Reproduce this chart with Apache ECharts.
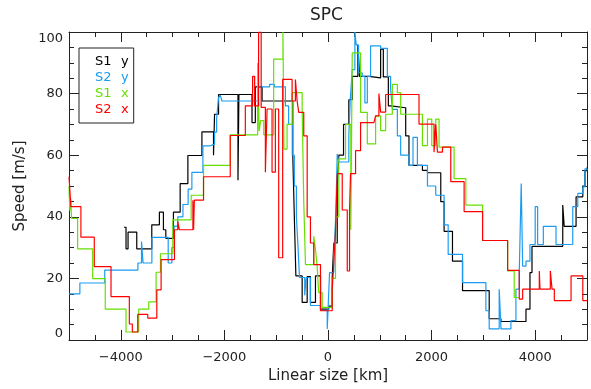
<!DOCTYPE html>
<html><head><meta charset="utf-8">
<script src="https://cdn.jsdelivr.net/npm/echarts@6/dist/echarts.min.js"></script>
<style>html,body{margin:0;padding:0;background:#fff}#c{width:591px;height:389px}</style>
</head><body><div id="c"></div>
<script>
// Tick labels
const xLabelTicks = [-4000, -2000, 0, 2000, 4000];
const xShortTicks = [-4500,-3500,-3000,-2500,-1500,-1000,-500,500,1000,1500,2500,3000,3500,4500];
const yMinorTicks = 4;

// Series: [linear size km, speed m/s] – value held until next point
const s1y = [[-3938,36.6],[-3899,29.6],[-3860,35],[-3692,29.6],[-3402,37.4],[-3255,41.5],[-3177,35.8],[-3131,33],[-2984,41.5],[-2854,50.8],[-2705,59.9],[-2434,67.6],[-2210,60],[-2190,73.3],[-2113,79.7],[-1738,51.9],[-1720,79.7],[-1467,70.6],[-1403,82.2],[-1273,77.6],[-680,60],[-650,40],[-620,20.8],[-499,12.2],[-402,20.6],[-339,12.2],[-242,20.8],[-145,10],[15,11],[81,20],[112,31.5],[178,50],[209,60],[300,70],[402,78],[468,85.6],[577,95.8],[610,85.6],[789,85.1],[1016,94.4],[1068,85.4],[1165,76],[1209,75.4],[1500,66.3],[1563,56.7],[1823,55.1],[1920,54.3],[2177,44.9],[2241,35.3],[2403,25.6],[2597,16],[3112,6.9],[3338,6],[3822,10],[3899,21.9],[3938,30.4],[4532,43.8],[4560,36.9],[4789,46.5],[4919,50],[4960,55],[5000,56]];
const s2y = [[-5000,15],[-4790,18.5],[-4310,22.7],[-3670,25],[-3600,32],[-3570,25],[-3400,33.3],[-3085,25],[-3015,30],[-2970,37],[-2900,40],[-2800,44],[-2700,49],[-2628,54.4],[-2415,63],[-2287,63.6],[-2190,67.5],[-2150,72],[-2113,78.7],[-2080,79.5],[-2047,77.6],[-1358,82.2],[-1126,83],[-1035,82.2],[-822,76],[-760,70],[-690,60],[-650,50],[-610,40],[-580,30.5],[-550,20.3],[-450,14.5],[-420,20.3],[-339,11.2],[-145,9.6],[-15,3.6],[0,9.5],[30,21.9],[112,28],[150,40],[178,60.4],[209,57.8],[402,66.3],[430,78],[468,87.8],[519,100],[545,95.8],[590,86.7],[660,85.6],[712,77],[759,85.6],[822,95.5],[1016,94.7],[1146,85.6],[1209,81.4],[1242,74.9],[1339,66.3],[1403,60],[1563,56.7],[1641,65.8],[1726,56.7],[1920,50],[2080,47],[2241,37.4],[2320,27.8],[2597,18.6],[3048,9.5],[3112,3.6],[3305,16.5],[3340,3.6],[3531,6.3],[3628,16.5],[3692,21.9],[3730,50.8],[3758,24],[3822,25.6],[3899,31],[4000,43.3],[4047,31],[4157,36.9],[4402,31],[4725,43.3],[4822,47.6],[4919,49.7],[4960,55.6],[5000,55]];
const s1x = [[-5000,50],[-4985,42],[-4970,46],[-4950,39.5],[-4834,29.6],[-4543,19.9],[-4300,10],[-3899,2.6],[-3654,10],[-3460,12.4],[-3319,22],[-3235,28],[-2996,39],[-2641,47],[-2403,56.7],[-1887,66.6],[-1358,89.9],[-1330,67.9],[-1300,71.2],[-1240,66.6],[-1049,91.2],[-870,100],[-850,62],[-790,70],[-693,80.3],[-499,75],[-468,45],[-435,24.5],[-275,33.7],[-242,29.4],[-210,24],[-180,15.4],[-112,10.6],[81,20],[145,40],[209,58.8],[339,70],[440,35.8],[468,93.2],[629,73.9],[759,63.7],[919,72.8],[1016,68],[1113,73.3],[1242,83],[1339,80.3],[1403,73.3],[1823,63.1],[1920,71.7],[2003,63.1],[2080,71.7],[2144,62.6],[2434,52.4],[2661,43.8],[2984,32.3],[3468,22.4],[3595,13.8],[3680,13.8]];
const s2x = [[-5000,53],[-4963,43.3],[-4770,33.4],[-4512,23.8],[-4189,14.1],[-3835,5.2],[-3777,2.6],[-3673,8.3],[-3479,7.1],[-3305,16.3],[-3222,26.1],[-2964,35.8],[-2900,38.5],[-2870,35.8],[-2608,45.4],[-2595,35.8],[-2580,45.4],[-2403,53],[-1887,66.4],[-1596,76],[-1455,85.6],[-1416,76],[-1340,100],[-1290,75.5],[-1209,54.5],[-1176,75],[-1080,54.5],[-1016,75],[-952,26.7],[-875,84.6],[-693,77.6],[-629,84.6],[-596,77.6],[-565,73.9],[-468,66.3],[-402,40],[-339,31.5],[-275,24.5],[-145,9.5],[81,16.5],[112,25],[145,35],[178,54],[275,42.2],[372,22.4],[416,42.2],[435,54],[532,61.5],[629,70.6],[886,70.1],[919,72.8],[983,80],[1016,74],[1113,79.7],[1757,70.1],[2047,61],[2080,70],[2113,61],[2210,62.6],[2370,51.4],[2628,41.7],[2984,32.3],[3468,22.6],[3692,13.3],[3758,16.5],[4079,22.4],[4093,16.5],[4292,22.4],[4325,16.5],[4369,12.8],[4692,20.8],[4919,12.8],[5000,12.8]];

const FONT = 'DejaVu Sans';
const AX = '#222';
const chart = echarts.init(document.getElementById('c'), null, {renderer: 'canvas'});

function xAx(pos, labels) {
  return {
    type: 'value', position: pos, min: -5000, max: 5000, interval: 2000,
    axisLine: {show: true, onZero: false, lineStyle: {color: AX, width: 1}},
    axisTick: {show: true, inside: true, length: 5, customValues: xShortTicks, lineStyle: {color: AX}},
    minorTick: {show: true, splitNumber: 2, length: 10, lineStyle: {color: AX}},
    axisLabel: labels ? {show: true, customValues: xLabelTicks, margin: 11, color: AX, fontSize: 13, fontFamily: FONT,
      formatter: v => String(v).replace('-', '\u2212')} : {show: false},
    splitLine: {show: false}, minorSplitLine: {show: false},
    name: labels ? 'Linear size [km]' : '', nameLocation: 'middle', nameGap: 29,
    nameTextStyle: {color: AX, fontSize: 15, fontFamily: FONT}
  };
}
function yAx(pos, labels) {
  return {
    type: 'value', position: pos, min: 0, max: 100, interval: 20,
    axisLine: {show: true, onZero: false, lineStyle: {color: AX, width: 1}},
    axisTick: {show: true, inside: true, length: 10, lineStyle: {color: AX}},
    minorTick: {show: true, splitNumber: yMinorTicks, length: 5, lineStyle: {color: AX}},
    axisLabel: labels ? {show: true, margin: 6, color: AX, fontSize: 13, fontFamily: FONT,
      verticalAlignMinLabel: 'bottom', verticalAlignMaxLabel: 'top'} : {show: false},
    splitLine: {show: false}, minorSplitLine: {show: false},
    name: labels ? 'Speed [m/s]' : '', nameLocation: 'middle', nameGap: 41,
    nameTextStyle: {color: AX, fontSize: 15, fontFamily: FONT}
  };
}
function ser(name, data, color) {
  return {name, type: 'line', data, step: 'end', showSymbol: false, symbol: 'none',
    xAxisIndex: 0, yAxisIndex: 0, lineStyle: {color, width: 1.2}, itemStyle: {color}, clip: true};
}
const names = ['S1 y', 'S2 y', 'S1 x', 'S2 x'];
const colors = ['#000000', '#1b9cf2', '#66e000', '#ff0000'];

chart.setOption({
  animation: false,
  backgroundColor: '#fff',
  title: {text: 'SPC', left: 310, top: 7, padding: 0,
    textStyle: {fontSize: 17, fontWeight: 'normal', color: AX, fontFamily: FONT}},
  grid: {left: 69, right: 4, top: 32, bottom: 46, containLabel: false},
  legend: {
    orient: 'vertical', left: 79, top: 48, selectedMode: false,
    data: names.map((n, i) => ({name: n, textStyle: {color: colors[i]}})),
    itemWidth: 0, itemHeight: 0, itemGap: 3, icon: 'rect',
    itemStyle: {opacity: 0}, lineStyle: {opacity: 0},
    padding: [7, 5, 7, 11], borderColor: AX, borderWidth: 1, borderRadius: 0, backgroundColor: '#fff',
    formatter: n => '{a|' + n.split(' ')[0] + '}' + n.split(' ')[1],
    textStyle: {fontSize: 13, fontFamily: FONT, lineHeight: 13,
      rich: {a: {width: 26, fontSize: 13, fontFamily: FONT}}}
  },
  xAxis: [xAx('bottom', true), xAx('top', false)],
  yAxis: [yAx('left', true), yAx('right', false)],
  series: [ser(names[0], s1y, colors[0]), ser(names[1], s2y, colors[1]), ser(names[2], s1x, colors[2]), ser(names[3], s2x, colors[3])]
});
</script>
</body></html>
